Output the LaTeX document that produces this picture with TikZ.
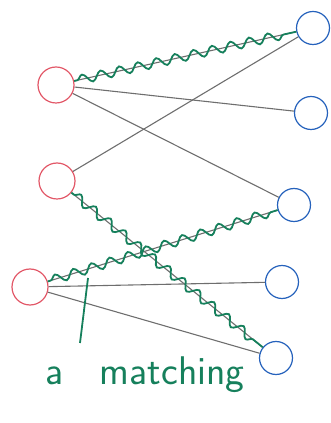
\documentclass[tikz,border=0pt]{standalone}
\usetikzlibrary{decorations.pathmorphing}

\definecolor{leftred}{RGB}{226,88,104}
\definecolor{rightblue}{RGB}{38,98,188}
\definecolor{matchgreen}{RGB}{22,128,92}
\definecolor{pencil}{RGB}{110,110,110}

\begin{document}
\begin{tikzpicture}[
    x=1pt, y=1pt,
    lvert/.style={
        circle,
        draw=leftred,
        line width=1.2pt,
        minimum size=36pt,
        inner sep=0pt
    },
    rvert/.style={
        circle,
        draw=rightblue,
        line width=1.2pt,
        minimum size=33pt,
        inner sep=0pt
    },
    edge/.style={
        draw=pencil,
        line width=1.1pt
    },
    matched/.style={
        draw=matchgreen,
        line width=1.8pt,
        decorate,
        decoration={snake, amplitude=4.5pt, segment length=19pt,
                    pre length=3pt, post length=6pt}
    },
    lbl/.style={
        text=matchgreen,
        font=\sffamily\fontsize{40}{44}\selectfont
    }
]
\useasboundingbox (0,0) rectangle (331,423);

% --- Left vertices ---
\node[lvert] (l1) at (56,338) {};
\node[lvert] (l2) at (57,242) {};
\node[lvert] (l3) at (30,136) {};

% --- Right vertices ---
\node[rvert] (r1) at (313,395) {};
\node[rvert] (r2) at (311,310) {};
\node[rvert] (r3) at (294,218) {};
\node[rvert] (r4) at (282,141) {};
\node[rvert] (r5) at (276,65)  {};

% --- All edges ---
\draw[edge] (l1) -- (r1);
\draw[edge] (l1) -- (r2);
\draw[edge] (l1) -- (r3);
\draw[edge] (l2) -- (r1);
\draw[edge] (l2) -- (r5);
\draw[edge] (l3) -- (r3);
\draw[edge] (l3) -- (r4);
\draw[edge] (l3) -- (r5);

% --- Matching edges (wavy) ---
\draw[matched] (l1) -- (r1);
\draw[matched] (l2) -- (r5);
\draw[matched] (l3) -- (r3);

% --- Label with pointer ---
\node[lbl] (caption) at (145,48) {a\hspace{0.6em} matching};
\coordinate (ptrtip)  at (88,145);
\coordinate (ptrtail) at (80,80);
\draw[matchgreen, line width=1.8pt] (ptrtail) -- (ptrtip);

\end{tikzpicture}
\end{document}
